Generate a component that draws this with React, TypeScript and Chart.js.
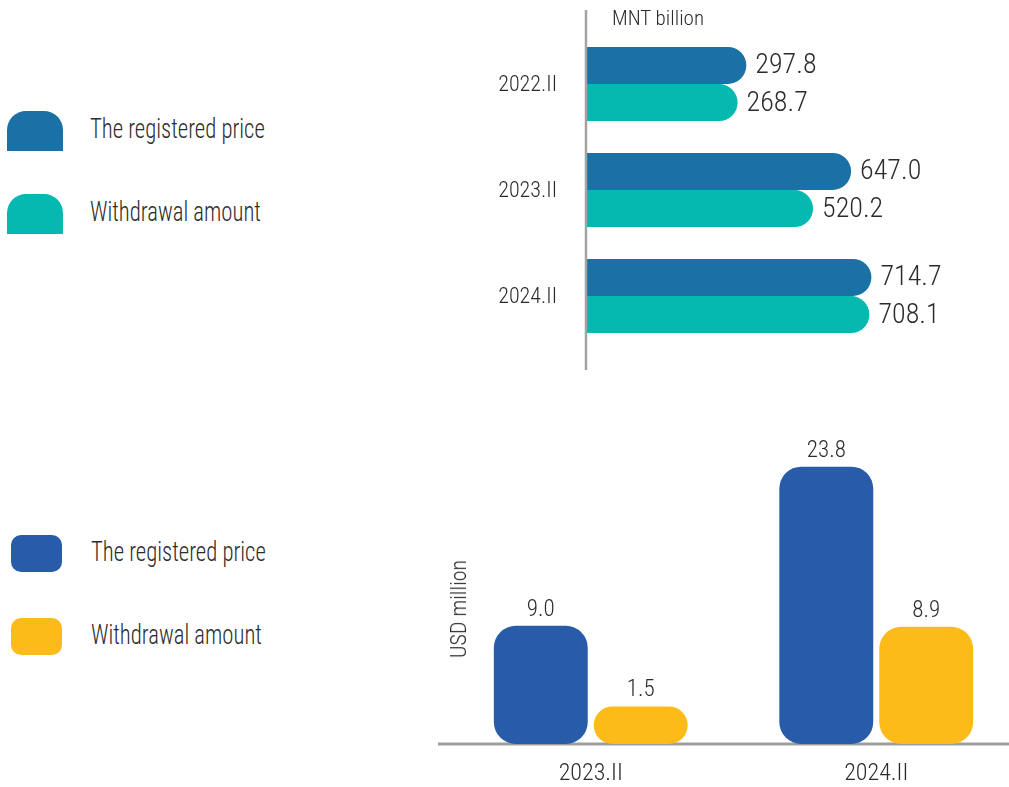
import React, { useEffect, useRef } from "react";
import { Chart, registerables } from "chart.js";
Chart.register(...registerables);

const FONT = '"Roboto Condensed", "DejaVu Sans Condensed", sans-serif';
const WEIGHT = 300;
const TEXT = "#2b2b2b";

const seriesNames = ["The registered price", "Withdrawal amount"];
const mntCategories = ["2022.II", "2023.II", "2024.II"];
const mntRegistered = [297.8, 647.0, 714.7];
const mntWithdrawal = [268.7, 520.2, 708.1];
const mntUnit = "MNT billion";
const usdCategories = ["2023.II", "2024.II"];
const usdRegistered = [9.0, 23.8];
const usdWithdrawal = [1.5, 8.9];
const usdUnit = "USD million";

const topColors = ["#1a71a5", "#05b9b1"];
const bottomColors = ["#285ca8", "#fdbb19"];

const topLabelPlugin = {
  id: "topLabels",
  afterDatasetsDraw(chart: any) {
    const ctx = chart.ctx;
    const a = chart.chartArea;
    const yScale = chart.scales.y;
    ctx.save();
    ctx.strokeStyle = "#a3a3a3";
    ctx.lineWidth = 2.5;
    ctx.beginPath();
    ctx.moveTo(a.left + 1, a.top - 21);
    ctx.lineTo(a.left + 1, a.bottom + 21);
    ctx.stroke();
    ctx.fillStyle = TEXT;
    ctx.textBaseline = "middle";
    // category labels via the category scale
    ctx.font = `${WEIGHT} 22px ${FONT}`;
    ctx.textAlign = "right";
    chart.data.labels.forEach((lab: string, i: number) => {
      ctx.fillText(lab, a.left - 28, yScale.getPixelForValue(i) + 1);
    });
    // value labels
    ctx.font = `${WEIGHT} 28px ${FONT}`;
    ctx.textAlign = "left";
    chart.data.datasets.forEach((ds: any, di: number) => {
      chart.getDatasetMeta(di).data.forEach((el: any, i: number) => {
        ctx.fillText(Number(ds.data[i]).toFixed(1), el.x + 9, el.y + 1);
      });
    });
    ctx.restore();
  },
};

const bottomBasePlugin = {
  id: "bottomBase",
  beforeDatasetsDraw(chart: any) {
    const ctx = chart.ctx;
    const a = chart.chartArea;
    ctx.save();
    ctx.strokeStyle = "#9e9e9e";
    ctx.lineWidth = 3;
    ctx.beginPath();
    ctx.moveTo(a.left - 10, a.bottom);
    ctx.lineTo(chart.width, a.bottom);
    ctx.stroke();
    ctx.restore();
  },
  afterDatasetsDraw(chart: any) {
    const ctx = chart.ctx;
    ctx.save();
    ctx.font = `${WEIGHT} 23px ${FONT}`;
    ctx.fillStyle = TEXT;
    ctx.textBaseline = "alphabetic";
    ctx.textAlign = "center";
    chart.data.datasets.forEach((ds: any, di: number) => {
      chart.getDatasetMeta(di).data.forEach((el: any, i: number) => {
        ctx.fillText(Number(ds.data[i]).toFixed(1), el.x, el.y - 10);
      });
    });
    ctx.restore();
  },
};

function TopChart() {
  const ref = useRef<HTMLCanvasElement>(null);
  useEffect(() => {
    const mk = (i: number, data: number[]) =>
      ({
        label: seriesNames[i],
        data,
        backgroundColor: topColors[i],
        base: -240,
        borderRadius: 19,
        borderSkipped: "start",
        barPercentage: 1,
        categoryPercentage: 0.7,
      } as any);
    const chart = new Chart(ref.current as HTMLCanvasElement, {
      type: "bar",
      data: {
        labels: mntCategories,
        datasets: [mk(0, mntRegistered), mk(1, mntWithdrawal)],
      },
      options: {
        indexAxis: "y",
        animation: false,
        responsive: false,
        layout: { padding: { top: 31, bottom: 31, right: 10, left: 105 } },
        plugins: { legend: { display: false }, tooltip: { enabled: false } },
        scales: {
          x: { display: false, min: -240, max: 1140 },
          y: { display: false },
        },
      } as any,
      plugins: [topLabelPlugin],
    });
    return () => chart.destroy();
  }, []);
  return (
    <canvas
      ref={ref}
      width={529}
      height={380}
      style={{ position: "absolute", left: 480, top: 0, width: 529, height: 380 }}
    />
  );
}

function BottomChart() {
  const ref = useRef<HTMLCanvasElement>(null);
  useEffect(() => {
    const mk = (i: number, data: number[]) =>
      ({
        label: seriesNames[i],
        data,
        backgroundColor: bottomColors[i],
        base: -2,
        borderRadius: 22,
        borderSkipped: false,
        barPercentage: 0.94,
        categoryPercentage: 0.7,
      } as any);
    const chart = new Chart(ref.current as HTMLCanvasElement, {
      type: "bar",
      data: {
        labels: usdCategories,
        datasets: [mk(0, usdRegistered), mk(1, usdWithdrawal)],
      },
      options: {
        animation: false,
        responsive: false,
        layout: { padding: { top: 0, bottom: 0, right: 11, left: 18 } },
        plugins: { legend: { display: false }, tooltip: { enabled: false } },
        scales: {
          y: { display: false, min: -2, max: 30 },
          x: {
            grid: { display: false, drawTicks: false },
            border: { display: false },
            ticks: { font: { family: FONT, size: 24, weight: WEIGHT }, color: TEXT, padding: 16 },
            afterFit: (s: any) => {
              s.height = 43;
            },
          },
        },
      } as any,
      plugins: [bottomBasePlugin],
    });
    return () => chart.destroy();
  }, []);
  return (
    <canvas
      ref={ref}
      width={600}
      height={387}
      style={{ position: "absolute", left: 430, top: 400, width: 600, height: 387 }}
    />
  );
}

const textStyle = (left: number, top: number, size: number): React.CSSProperties => ({
  position: "absolute",
  left,
  top,
  fontFamily: FONT,
  fontWeight: WEIGHT,
  fontSize: size,
  lineHeight: `${size}px`,
  color: TEXT,
  whiteSpace: "nowrap",
});

const legendText = (left: number, top: number): React.CSSProperties => ({
  ...textStyle(left, top, 27),
  transform: "scaleX(0.84)",
  transformOrigin: "left center",
});

export default function App() {
  return (
    <div
      style={{
        position: "absolute",
        left: 0,
        top: 0,
        width: 1009,
        height: 787,
        overflow: "hidden",
        background: "#ffffff",
      }}
    >
      {/* top legend */}
      <div style={{ position: "absolute", left: 7, top: 111, width: 56, height: 40, background: topColors[0], borderRadius: "19px 19px 0 0" }} />
      <div style={legendText(90, 116)}>{seriesNames[0]}</div>
      <div style={{ position: "absolute", left: 7, top: 194, width: 56, height: 40, background: topColors[1], borderRadius: "19px 19px 0 0" }} />
      <div style={legendText(90, 199)}>{seriesNames[1]}</div>

      {/* bottom legend */}
      <div style={{ position: "absolute", left: 11, top: 535, width: 51, height: 37, background: bottomColors[0], borderRadius: 10 }} />
      <div style={legendText(91, 539)}>{seriesNames[0]}</div>
      <div style={{ position: "absolute", left: 11, top: 618, width: 51, height: 37, background: bottomColors[1], borderRadius: 10 }} />
      <div style={legendText(91, 622)}>{seriesNames[1]}</div>

      <TopChart />
      <BottomChart />

      <div style={textStyle(612, 8, 21)}>{mntUnit}</div>
      <div
        style={{
          ...textStyle(459, 609, 22),
          transform: "translate(-50%, -50%) rotate(-90deg)",
        }}
      >
        {usdUnit}
      </div>
    </div>
  );
}
